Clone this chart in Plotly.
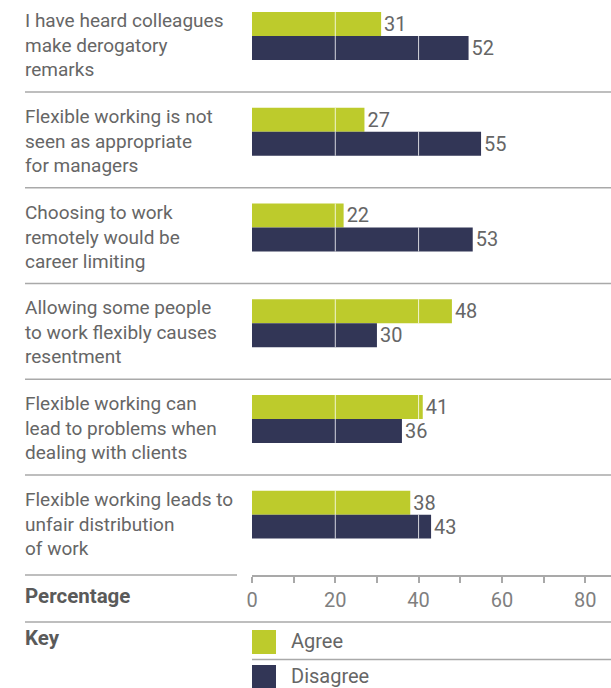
import plotly.graph_objects as go

# Survey statements and responses (percent)
statements = [
    "I have heard colleagues<br>make derogatory<br>remarks",
    "Flexible working is not<br>seen as appropriate<br>for managers",
    "Choosing to work<br>remotely would be<br>career limiting",
    "Allowing some people<br>to work flexibly causes<br>resentment",
    "Flexible working can<br>lead to problems when<br>dealing with clients",
    "Flexible working leads to<br>unfair distribution<br>of work",
]
agree = [31, 27, 22, 48, 41, 38]
disagree = [52, 55, 53, 30, 36, 43]
x_ticks = [0, 20, 40, 60, 80]

AGREE_COLOR = "#bdcb2c"
DISAGREE_COLOR = "#323656"
RULE_COLOR = "#a9a9a9"
TEXT_COLOR = "#666666"
FONT = "Roboto"

W, H = 611, 688
ML, MT, MB = 252, 0, 113
PW, PH = W - ML, H - MT - MB
BAR_HALF = 0.25  # each bar of a pair covers a quarter of the category band


def px_x(px):
    return (px - ML) / PW


def px_y(py):
    return (MT + PH - py) / PH


keys = list(range(len(statements)))

fig = go.Figure()
for name, vals, color in (("Agree", agree, AGREE_COLOR),
                          ("Disagree", disagree, DISAGREE_COLOR)):
    fig.add_trace(go.Bar(
        y=keys, x=vals, orientation="h", name=name,
        marker=dict(color=color, line=dict(width=0)),
        text=vals, textposition="outside", cliponaxis=False,
        outsidetextfont=dict(family=FONT, size=20, color=TEXT_COLOR),
    ))

shapes = []
# white grid lines, shown only across each bar
for i in keys:
    for vals, y0, y1 in ((agree, i - BAR_HALF, i), (disagree, i, i + BAR_HALF)):
        for v in x_ticks[1:]:
            if v < vals[i]:
                shapes.append(dict(type="line", xref="x", yref="y",
                                   x0=v, x1=v, y0=y0, y1=y1, layer="above",
                                   line=dict(color="rgba(255,255,255,0.8)", width=1)))
# separators between statements
for i in keys[:-1]:
    shapes.append(dict(type="line", xref="paper", yref="y",
                       x0=px_x(25), x1=1, y0=i + 0.585, y1=i + 0.585,
                       layer="above", line=dict(color=RULE_COLOR, width=1.5)))
# rule left of the axis row
shapes.append(dict(type="line", xref="paper", yref="paper",
                   x0=px_x(25), x1=px_x(237), y0=0, y1=0,
                   line=dict(color=RULE_COLOR, width=1.5)))
# rule above the key
shapes.append(dict(type="line", xref="paper", yref="paper",
                   x0=px_x(25), x1=1, y0=px_y(622), y1=px_y(622),
                   line=dict(color=RULE_COLOR, width=1.5)))
# key swatches
shapes.append(dict(type="rect", xref="paper", yref="paper",
                   x0=px_x(252), x1=px_x(276), y0=px_y(654), y1=px_y(630),
                   fillcolor=AGREE_COLOR, line=dict(width=0)))
shapes.append(dict(type="line", xref="paper", yref="paper",
                   x0=px_x(252), x1=1, y0=px_y(659.5), y1=px_y(659.5),
                   line=dict(color=RULE_COLOR, width=1.5)))
shapes.append(dict(type="rect", xref="paper", yref="paper",
                   x0=px_x(252), x1=px_x(276), y0=px_y(689), y1=px_y(665),
                   fillcolor=DISAGREE_COLOR, line=dict(width=0)))

annotations = []
for i, s in enumerate(statements):
    annotations.append(dict(
        text=s, xref="paper", yref="y", x=px_x(23), y=i - BAR_HALF,
        xanchor="left", yanchor="top", align="left", showarrow=False,
        yshift=5, font=dict(family=FONT, size=19, color=TEXT_COLOR),
    ))
annotations.append(dict(text="<b>Percentage</b>", xref="paper", yref="paper",
                        x=px_x(23), y=px_y(596), xanchor="left", yanchor="middle",
                        showarrow=False,
                        font=dict(family=FONT, size=20.5, color="#5a5a5a")))
annotations.append(dict(text="<b>Key</b>", xref="paper", yref="paper",
                        x=px_x(23), y=px_y(638), xanchor="left", yanchor="middle",
                        showarrow=False,
                        font=dict(family=FONT, size=20.5, color="#5a5a5a")))
annotations.append(dict(text="Agree", xref="paper", yref="paper",
                        x=px_x(289), y=px_y(641), xanchor="left", yanchor="middle",
                        showarrow=False,
                        font=dict(family=FONT, size=20, color=TEXT_COLOR)))
annotations.append(dict(text="Disagree", xref="paper", yref="paper",
                        x=px_x(289), y=px_y(676), xanchor="left", yanchor="middle",
                        showarrow=False,
                        font=dict(family=FONT, size=20, color=TEXT_COLOR)))

fig.update_layout(
    width=W, height=H,
    margin=dict(l=ML, r=0, t=MT, b=MB),
    paper_bgcolor="white", plot_bgcolor="white",
    barmode="group", bargap=0.5, bargroupgap=0,
    showlegend=False,
    font=dict(family=FONT, size=19, color=TEXT_COLOR),
    shapes=shapes, annotations=annotations,
    xaxis=dict(
        range=[0, 86.2], tickvals=x_ticks, showgrid=False, zeroline=False,
        showline=True, linecolor=RULE_COLOR, linewidth=1.5,
        ticks="outside", ticklen=6, tickwidth=1.5, tickcolor=RULE_COLOR,
        minor=dict(dtick=10, ticks="outside", ticklen=6, tickwidth=1.5,
                   tickcolor=RULE_COLOR, showgrid=False),
        tickfont=dict(family=FONT, size=20, color="#7f7f7f"),
        fixedrange=True,
    ),
    yaxis=dict(
        range=[5.63, -0.376], showticklabels=False, showgrid=False,
        zeroline=False, showline=False, ticks="", fixedrange=True,
    ),
)

fig.write_html("out.html")
